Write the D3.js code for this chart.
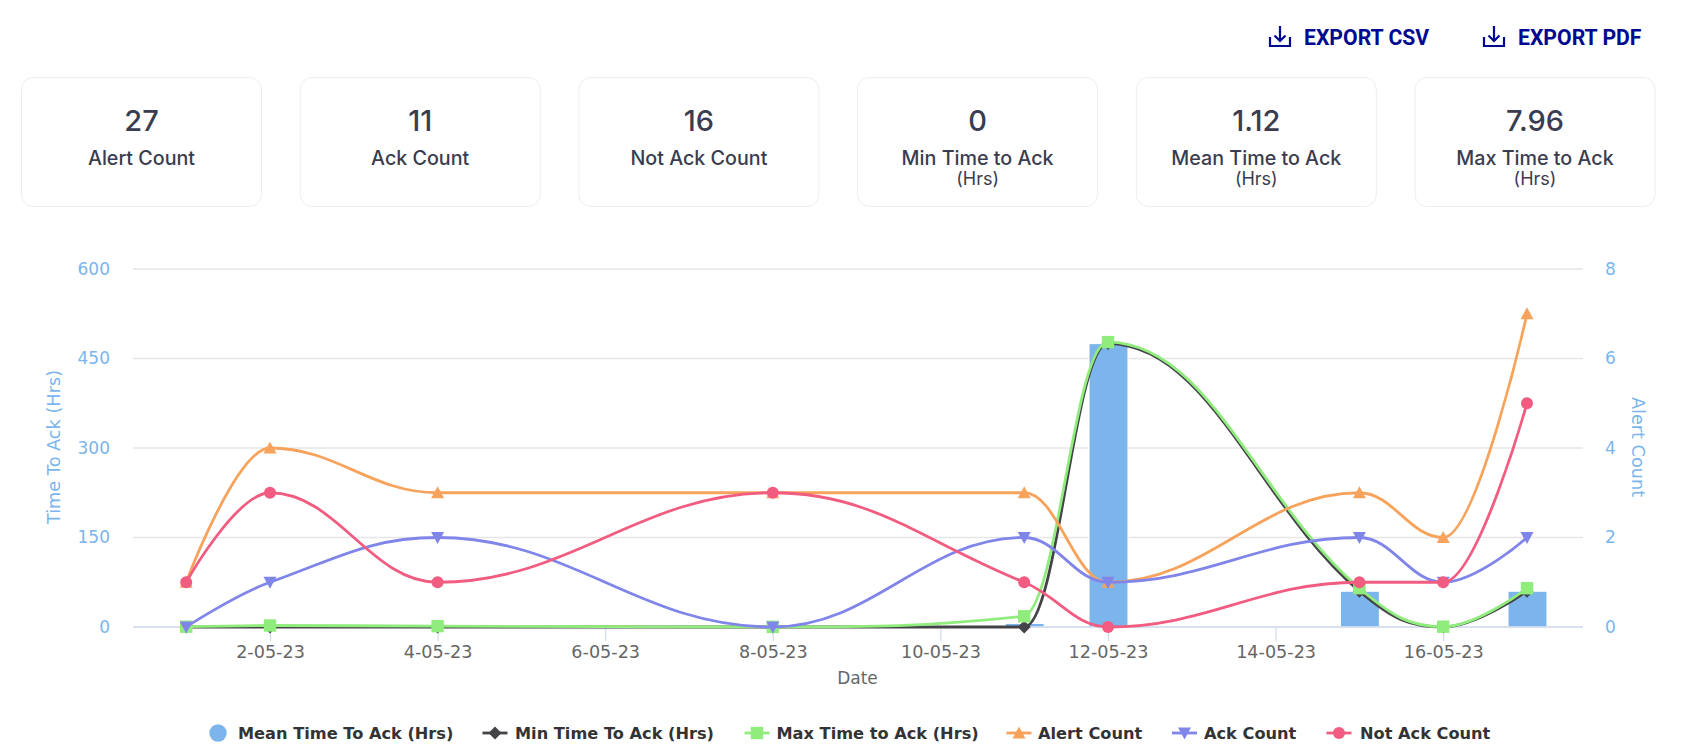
<!DOCTYPE html>
<html>
  <head>
    <title>Alert Report</title>
    <meta charset="utf-8" />
    <style>
      body { margin: 0; background: #fff; }
      svg { display: block; }
      .card-value { font: 500 29px Inter, sans-serif; fill: #3a3c50; text-anchor: middle; }
      .card-label { font: 500 19.7px Inter, sans-serif; fill: #3a3c50; text-anchor: middle; }
      .card-unit { font: 400 18px Inter, sans-serif; fill: #3a3c50; text-anchor: middle; }
      .export { font: 700 21.2px Roboto, sans-serif; fill: #00098f; }
      .chart-text { font-family: "DejaVu Sans", sans-serif; }
    </style>
  </head>

  <body>
    <div id="plot"></div>

    <script src="https://d3js.org/d3.v7.min.js"></script>
    <script>
      // summary cards
      const cardValues = ["27", "11", "16", "0", "1.12", "7.96"];
      const cardLabels = ["Alert Count", "Ack Count", "Not Ack Count", "Min Time to Ack", "Mean Time to Ack", "Max Time to Ack"];
      const cardUnits = ["", "", "", "(Hrs)", "(Hrs)", "(Hrs)"];
      const exportLabels = ["EXPORT CSV", "EXPORT PDF"];

      // chart data, only days with alerts have points
      const days = [1, 2, 4, 8, 11, 12, 15, 16, 17];
      const meanTime = [0, 0, 0, 0, 6, 475, 60, 0, 60];
      const minTime = [0, 0, 0, 0, 0, 475, 60, 0, 60];
      const maxTime = [0.5, 2.5, 1.5, 0.2, 18, 477.5, 65, 0.5, 65];
      const alertCount = [1, 4, 3, 3, 3, 1, 3, 2, 7];
      const ackCount = [0, 1, 2, 0, 2, 1, 2, 1, 2];
      const notAckCount = [1, 3, 1, 3, 1, 0, 1, 1, 5];

      const tickDays = [2, 4, 6, 8, 10, 12, 14, 16];
      const leftTicks = [0, 150, 300, 450, 600];
      const rightTicks = [0, 2, 4, 6, 8];

      const width = 1698, height = 755;
      const plot = { left: 133, right: 1583, top: 269, bottom: 627 };
      const barWidth = 39;

      const toDate = (d) => new Date(Date.UTC(2023, 4, d));
      const x = d3.scaleUtc().domain([toDate(1), toDate(17)]).range([186.2, 1527]);
      const yLeft = d3.scaleLinear().domain([0, 600]).range([plot.bottom, plot.top]);
      const yRight = d3.scaleLinear().domain([0, 8]).range([plot.bottom, plot.top]);

      // same smoothing the original chart spline uses: control points keep their x,
      // y gets corrected and clamped so the curve never overshoots a point
      function SplineCurve(context) { this._context = context; }
      SplineCurve.prototype = {
        areaStart() {}, areaEnd() {},
        lineStart() { this._pts = []; },
        point(px, py) { this._pts.push([+px, +py]); },
        lineEnd() {
          const pts = this._pts, ctx = this._context, s = 1.5, den = s + 1;
          const conts = pts.map((p, i) => {
            const last = pts[i - 1], next = pts[i + 1];
            if (!last || !next) return { lx: p[0], ly: p[1], rx: p[0], ry: p[1] };
            const lx = (s * p[0] + last[0]) / den, rx = (s * p[0] + next[0]) / den;
            let ly = (s * p[1] + last[1]) / den, ry = (s * p[1] + next[1]) / den;
            const correction = ((ry - ly) * (rx - p[0])) / (rx - lx) + p[1] - ry;
            ly += correction;
            ry += correction;
            if (ly > last[1] && ly > p[1]) { ly = Math.max(last[1], p[1]); ry = 2 * p[1] - ly; }
            else if (ly < last[1] && ly < p[1]) { ly = Math.min(last[1], p[1]); ry = 2 * p[1] - ly; }
            if (ry > next[1] && ry > p[1]) { ry = Math.max(next[1], p[1]); ly = 2 * p[1] - ry; }
            else if (ry < next[1] && ry < p[1]) { ry = Math.min(next[1], p[1]); ly = 2 * p[1] - ry; }
            return { lx, ly, rx, ry };
          });
          pts.forEach((p, i) => {
            if (i === 0) ctx.moveTo(p[0], p[1]);
            else ctx.bezierCurveTo(conts[i - 1].rx, conts[i - 1].ry, conts[i].lx, conts[i].ly, p[0], p[1]);
          });
        },
      };
      const splineCurve = (context) => new SplineCurve(context);

      const markers = {
        diamond: "M0,-6.5L6.5,0L0,6.5L-6.5,0Z",
        square: "M-6.2,-6.2H6.2V6.2H-6.2Z",
        triangle: "M0,-6.5L6.5,5.5H-6.5Z",
        triangleDown: "M-6.5,-5.5H6.5L0,6.5Z",
        circle: d3.symbol().type(d3.symbolCircle).size(Math.PI * 6 * 6)(),
      };

      const lineSeries = [
        { name: "Min Time To Ack (Hrs)", values: minTime, y: yLeft, color: "#434348", marker: "diamond", legendX: 495, textX: 515 },
        { name: "Max Time to Ack (Hrs)", values: maxTime, y: yLeft, color: "#90ed7d", marker: "square", legendX: 757, textX: 776.5 },
        { name: "Alert Count", values: alertCount, y: yRight, color: "#f7a35c", marker: "triangle", legendX: 1019, textX: 1038 },
        { name: "Ack Count", values: ackCount, y: yRight, color: "#8085e9", marker: "triangleDown", legendX: 1184.5, textX: 1204 },
        { name: "Not Ack Count", values: notAckCount, y: yRight, color: "#f15c80", marker: "circle", legendX: 1339, textX: 1360 },
      ];

      const svg = d3.select("#plot").append("svg").attr("width", width).attr("height", height);

      // export buttons
      const exportGroup = svg.selectAll("g.export-btn").data(exportLabels).enter().append("g")
        .attr("class", "export-btn")
        .attr("transform", (d, i) => `translate(${1269 + i * 214},0)`);
      exportGroup.append("path")
        .attr("d", "M1,37V46H21V37M11,26V41M5.5,35.5L11,41L16.5,35.5")
        .attr("fill", "none").attr("stroke", "#00098f").attr("stroke-width", 2.2);
      exportGroup.append("text").attr("class", "export").attr("x", 35).attr("y", 44.5).text((d) => d);

      // cards
      const cards = svg.selectAll("g.card").data(cardValues).enter().append("g")
        .attr("class", "card")
        .attr("transform", (d, i) => `translate(${21.5 + i * 278.7},77.5)`);
      cards.append("rect").attr("width", 240).attr("height", 129).attr("rx", 12)
        .attr("fill", "#fff").attr("stroke", "#eeeeee");
      cards.append("text").attr("class", "card-value").attr("x", 120).attr("y", 53).text((d) => d);
      cards.append("text").attr("class", "card-label").attr("x", 120).attr("y", 87).text((d, i) => cardLabels[i]);
      cards.append("text").attr("class", "card-unit").attr("x", 120).attr("y", 107).text((d, i) => cardUnits[i]);

      // gridlines
      svg.append("g").selectAll("line").data(leftTicks.slice(1)).enter().append("line")
        .attr("x1", plot.left).attr("x2", plot.right)
        .attr("y1", (d) => yLeft(d)).attr("y2", (d) => yLeft(d))
        .attr("stroke", "#e6e6e6").attr("stroke-width", 1.6);

      // axes
      const xAxis = d3.axisBottom(x).tickValues(tickDays.map(toDate)).tickSize(14).tickPadding(5)
        .tickFormat((d) => `${d.getUTCDate()}-05-23`);
      const xG = svg.append("g").attr("class", "chart-text")
        .attr("transform", `translate(0,${plot.bottom})`).call(xAxis);
      xG.select(".domain").remove();
      xG.selectAll("line").attr("stroke", "#ccd6eb").attr("stroke-width", 1.1);
      xG.selectAll("text").attr("fill", "#666666").style("font-size", "17.6px");

      const leftG = svg.append("g").attr("class", "chart-text")
        .attr("transform", `translate(${plot.left},0)`)
        .call(d3.axisLeft(yLeft).tickValues(leftTicks).tickSize(0).tickPadding(23));
      const rightG = svg.append("g").attr("class", "chart-text")
        .attr("transform", `translate(${plot.right},0)`)
        .call(d3.axisRight(yRight).tickValues(rightTicks).tickSize(0).tickPadding(22));
      [leftG, rightG].forEach((g) => {
        g.select(".domain").remove();
        g.selectAll("text").attr("fill", "#7cb5ec").style("font-size", "17px");
      });

      svg.append("text").attr("class", "chart-text")
        .attr("transform", "translate(60,447) rotate(-90)")
        .attr("text-anchor", "middle").attr("fill", "#7cb5ec").style("font-size", "17.7px")
        .text("Time To Ack (Hrs)");
      svg.append("text").attr("class", "chart-text")
        .attr("transform", "translate(1632,447) rotate(90)")
        .attr("text-anchor", "middle").attr("fill", "#7cb5ec").style("font-size", "17.7px")
        .text("Alert Count");
      svg.append("text").attr("class", "chart-text")
        .attr("x", 857.5).attr("y", 684)
        .attr("text-anchor", "middle").attr("fill", "#666666").style("font-size", "17px")
        .text("Date");

      // mean time columns
      svg.append("g").selectAll("rect").data(days).enter().append("rect")
        .attr("x", (d) => x(toDate(d)) - barWidth / 2 + 0.5)
        .attr("width", barWidth)
        .attr("y", (d, i) => yLeft(meanTime[i]))
        .attr("height", (d, i) => plot.bottom - yLeft(meanTime[i]))
        .attr("fill", "#7cb5ec").attr("stroke", "#fff").attr("stroke-width", 1.1)
        .attr("display", (d, i) => (meanTime[i] > 0 ? null : "none"));

      // baseline sits above columns
      svg.append("line")
        .attr("x1", plot.left).attr("x2", plot.right)
        .attr("y1", plot.bottom).attr("y2", plot.bottom)
        .attr("stroke", "#ccd6eb").attr("stroke-width", 1.6);

      // spline series
      lineSeries.forEach((s) => {
        const line = d3.line()
          .x((d) => x(toDate(d)))
          .y((d, i) => s.y(s.values[i]))
          .curve(splineCurve);
        svg.append("path").datum(days)
          .attr("d", line).attr("fill", "none")
          .attr("stroke", s.color).attr("stroke-width", 2.8);
        svg.append("g").selectAll("path").data(days).enter().append("path")
          .attr("d", markers[s.marker])
          .attr("fill", s.color)
          .attr("transform", (d, i) => `translate(${x(toDate(d))},${s.y(s.values[i])})`);
      });

      // legend
      const legendY = 733;
      const legend = svg.append("g").attr("class", "chart-text");
      legend.append("circle").attr("cx", 218).attr("cy", legendY).attr("r", 8.7).attr("fill", "#7cb5ec");
      legend.append("text").attr("x", 238).attr("y", legendY + 6)
        .attr("fill", "#333333").attr("font-weight", "bold").style("font-size", "16.2px")
        .text("Mean Time To Ack (Hrs)");
      lineSeries.forEach((s) => {
        legend.append("line")
          .attr("x1", s.legendX - 12.5).attr("x2", s.legendX + 12.5)
          .attr("y1", legendY).attr("y2", legendY)
          .attr("stroke", s.color).attr("stroke-width", 2.8);
        legend.append("path").attr("d", markers[s.marker]).attr("fill", s.color)
          .attr("transform", `translate(${s.legendX},${legendY})`);
        legend.append("text").attr("x", s.textX).attr("y", legendY + 6)
          .attr("fill", "#333333").attr("font-weight", "bold").style("font-size", "16.2px")
          .text(s.name);
      });
    </script>
  </body>
</html>
